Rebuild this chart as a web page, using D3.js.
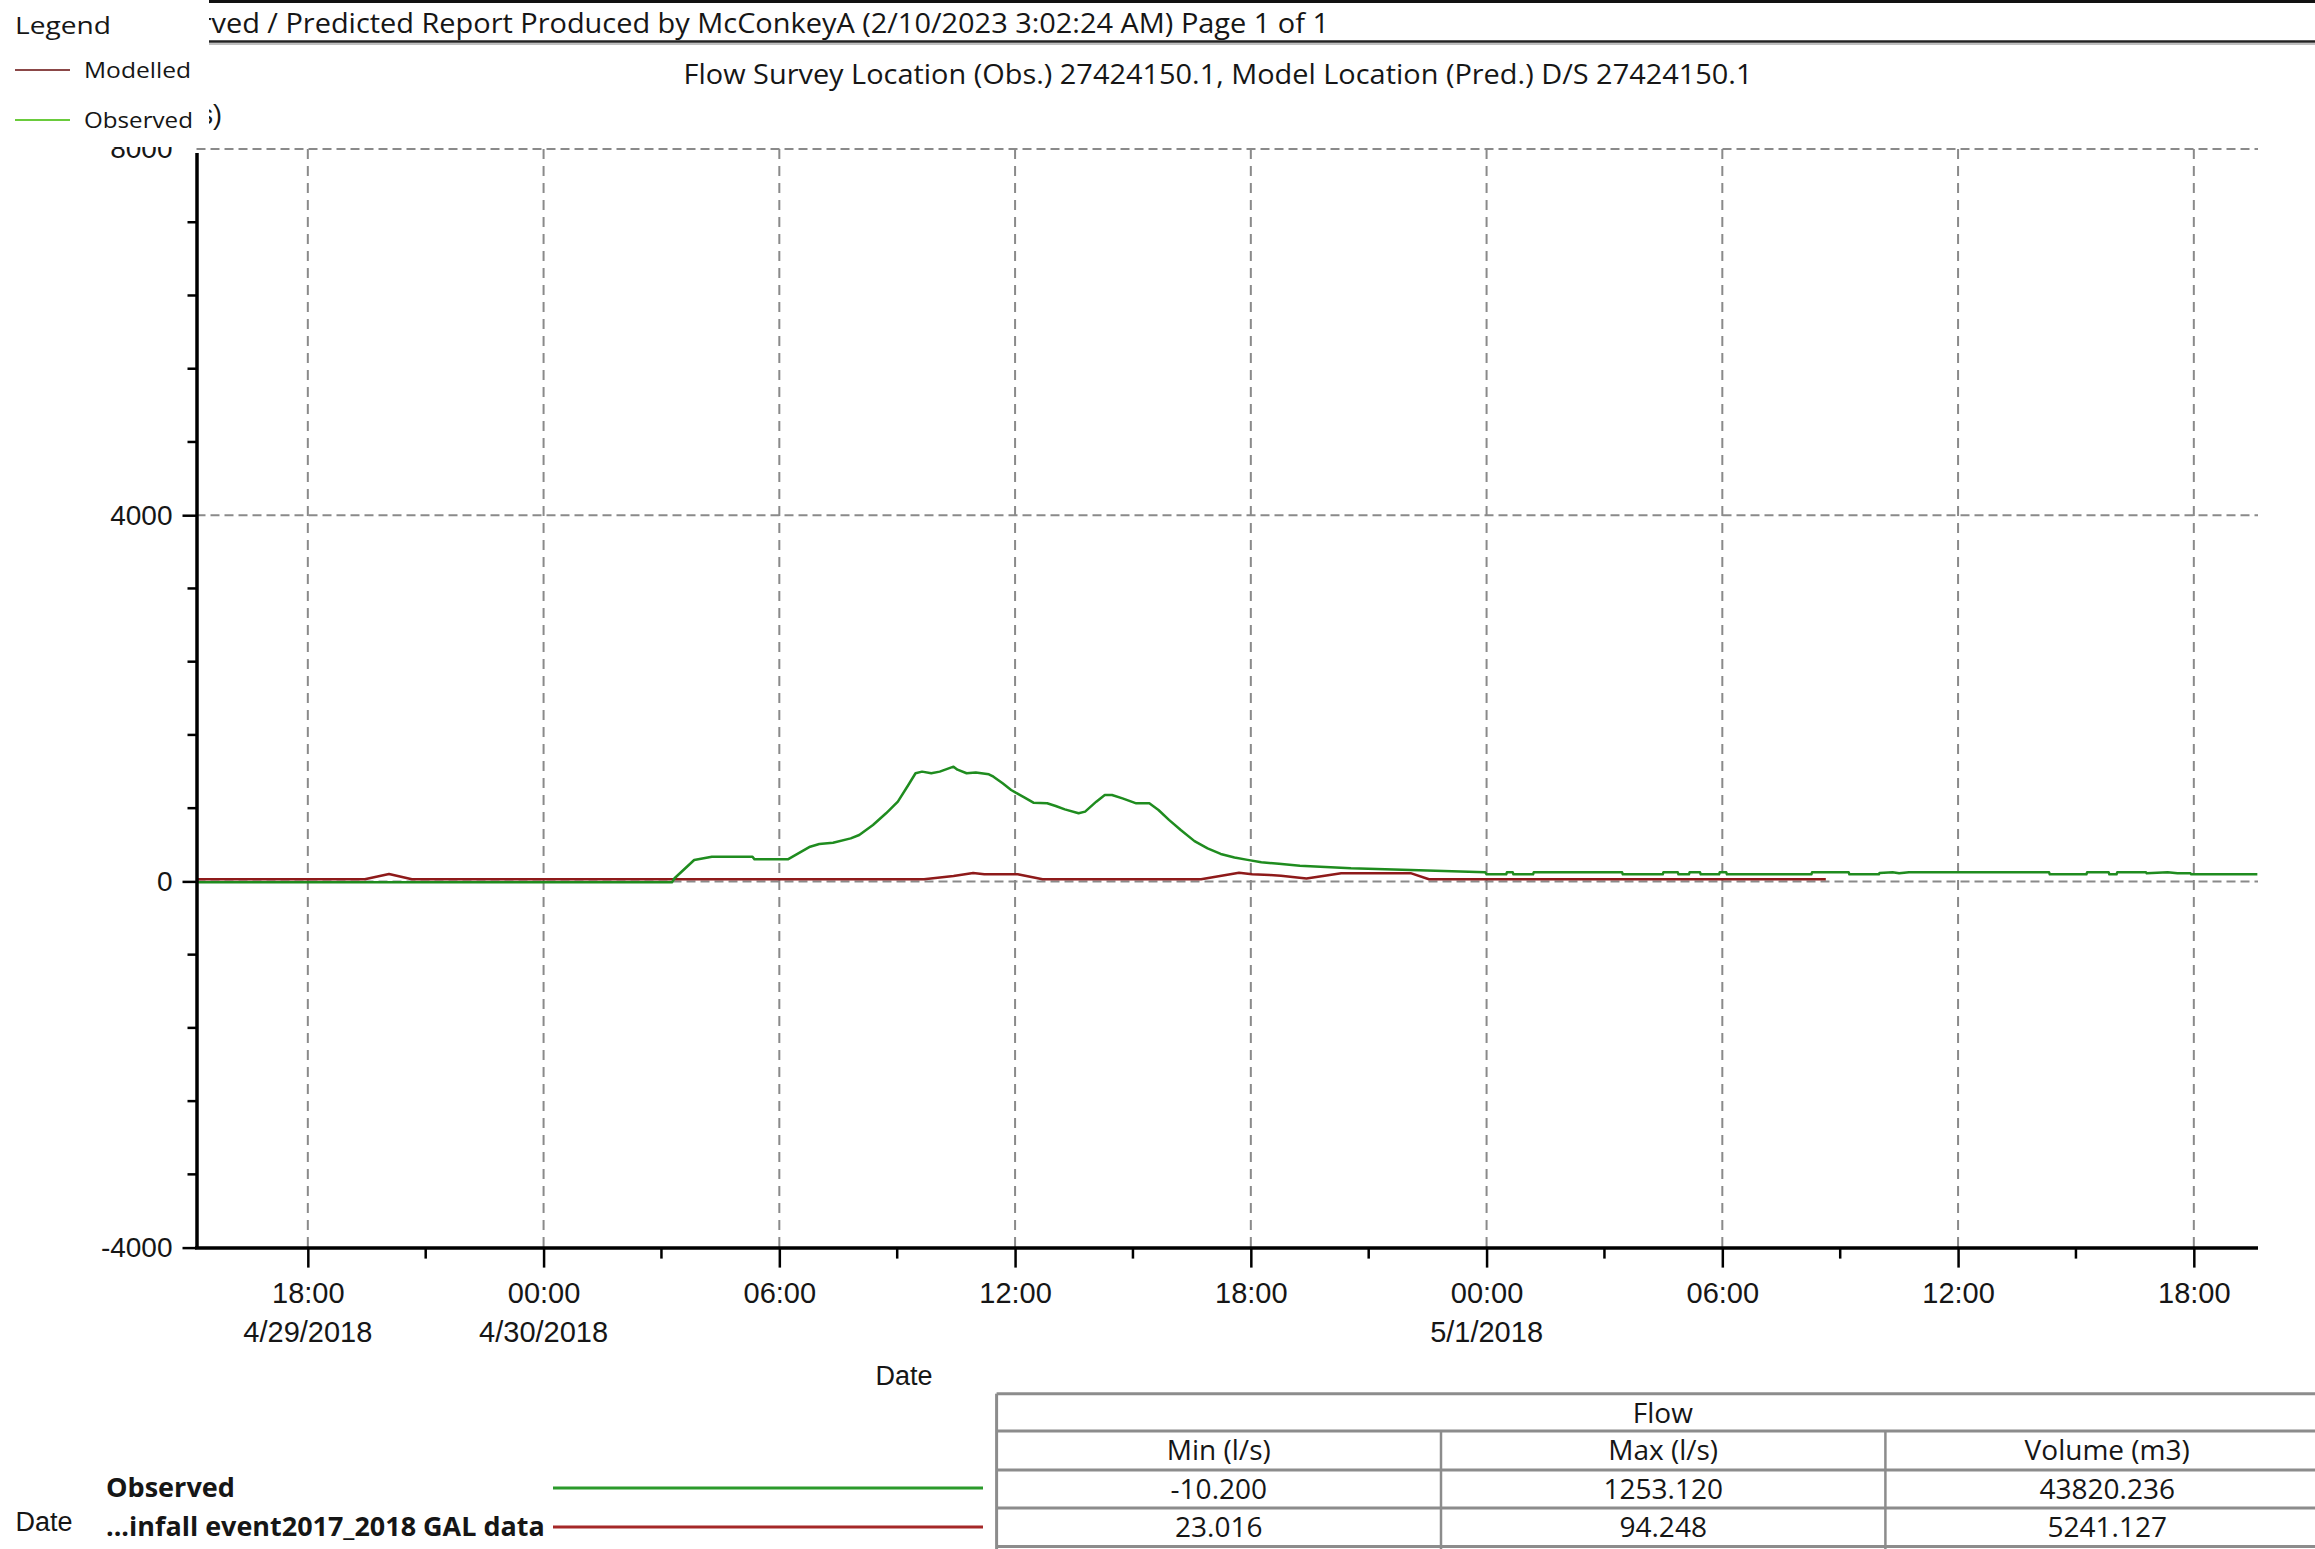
<!DOCTYPE html>
<html>
<head>
<meta charset="utf-8">
<script src="https://cdn.jsdelivr.net/npm/d3@7"></script>
<style>
  html, body { margin: 0; padding: 0; background: #fff; }
  svg { display: block; }
</style>
</head>
<body>
<svg id="chart" width="2315" height="1549"></svg>
<script>
// ---- data -------------------------------------------------------------
const reportTitle = "Observed / Predicted Report Produced by McConkeyA (2/10/2023 3:02:24 AM) Page 1 of 1";
const reportTitleVisible = "ved / Predicted Report Produced by McConkeyA (2/10/2023 3:02:24 AM) Page 1 of 1";
const chartTitle = "Flow Survey Location (Obs.) 27424150.1, Model Location (Pred.) D/S 27424150.1";
const yAxisTitle = "Flow (l/s)";
const xAxisTitle = "Date";
const legendTitle = "Legend";
const legendNames = ["Modelled", "Observed"];
const bottomSeriesNames = ["Observed", "...infall event2017_2018 GAL data"];

const timeDomain = ["2018-04-29 15:10", "2018-05-01 19:38"];
const flowDomain = [-4000, 8000];
const flowLabelTicks = [-4000, 0, 4000, 8000];
const flowGridTicks = [0, 4000, 8000];
const flowMinorStep = 800;

// Observed flow (l/s)
const observedSeries = [
  ["2018-04-29 15:10", -10.2], ["2018-04-30 03:16", -10.2], ["2018-04-30 03:20", 34],
  ["2018-04-30 03:50", 234], ["2018-04-30 04:17", 270], ["2018-04-30 05:19", 270],
  ["2018-04-30 05:22", 241], ["2018-04-30 06:13", 241], ["2018-04-30 06:47", 379],
  ["2018-04-30 07:01", 408], ["2018-04-30 07:22", 423], ["2018-04-30 07:49", 470],
  ["2018-04-30 08:02", 507], ["2018-04-30 08:23", 616], ["2018-04-30 08:43", 744],
  ["2018-04-30 09:01", 871], ["2018-04-30 09:17", 1053], ["2018-04-30 09:28", 1181],
  ["2018-04-30 09:38", 1199], ["2018-04-30 09:52", 1181], ["2018-04-30 10:05", 1199],
  ["2018-04-30 10:26", 1253.12], ["2018-04-30 10:32", 1220], ["2018-04-30 10:46", 1181],
  ["2018-04-30 11:00", 1190], ["2018-04-30 11:20", 1170], ["2018-04-30 11:27", 1144],
  ["2018-04-30 11:41", 1071], ["2018-04-30 11:54", 998], ["2018-04-30 12:01", 969],
  ["2018-04-30 12:14", 918], ["2018-04-30 12:28", 860], ["2018-04-30 12:49", 853],
  ["2018-04-30 13:02", 824], ["2018-04-30 13:16", 787], ["2018-04-30 13:37", 744],
  ["2018-04-30 13:47", 762], ["2018-04-30 14:04", 871], ["2018-04-30 14:17", 944],
  ["2018-04-30 14:28", 944], ["2018-04-30 14:44", 907], ["2018-04-30 15:05", 853],
  ["2018-04-30 15:25", 853], ["2018-04-30 15:39", 780], ["2018-04-30 15:55", 672],
  ["2018-04-30 16:13", 561], ["2018-04-30 16:34", 440], ["2018-04-30 16:54", 360],
  ["2018-04-30 17:14", 300], ["2018-04-30 17:35", 262], ["2018-04-30 17:55", 235],
  ["2018-04-30 18:16", 210], ["2018-04-30 18:43", 192], ["2018-04-30 19:15", 172],
  ["2018-04-30 20:33", 143], ["2018-04-30 22:04", 125], ["2018-04-30 23:58", 99],
  ["2018-05-01 00:00", 77], ["2018-05-01 00:30", 77], ["2018-05-01 00:31", 99],
  ["2018-05-01 00:40", 99], ["2018-05-01 00:41", 77], ["2018-05-01 01:11", 77],
  ["2018-05-01 01:12", 99], ["2018-05-01 03:27", 99], ["2018-05-01 03:28", 77],
  ["2018-05-01 04:29", 77], ["2018-05-01 04:30", 99], ["2018-05-01 04:52", 99],
  ["2018-05-01 04:53", 77], ["2018-05-01 05:09", 77], ["2018-05-01 05:10", 99],
  ["2018-05-01 05:26", 99], ["2018-05-01 05:27", 77], ["2018-05-01 05:55", 77],
  ["2018-05-01 05:56", 99], ["2018-05-01 06:06", 99], ["2018-05-01 06:07", 77],
  ["2018-05-01 08:16", 77], ["2018-05-01 08:17", 99], ["2018-05-01 09:13", 99],
  ["2018-05-01 09:14", 77], ["2018-05-01 09:59", 77], ["2018-05-01 10:00", 92],
  ["2018-05-01 10:20", 99], ["2018-05-01 10:30", 88], ["2018-05-01 10:45", 99],
  ["2018-05-01 14:19", 99], ["2018-05-01 14:20", 77], ["2018-05-01 15:16", 77],
  ["2018-05-01 15:17", 99], ["2018-05-01 15:50", 99], ["2018-05-01 15:51", 77],
  ["2018-05-01 16:02", 77], ["2018-05-01 16:03", 99], ["2018-05-01 16:47", 99],
  ["2018-05-01 16:48", 88], ["2018-05-01 17:20", 99], ["2018-05-01 17:35", 88],
  ["2018-05-01 17:55", 88], ["2018-05-01 17:56", 77], ["2018-05-01 19:37", 77]
];

// Modelled flow (l/s)
const modelledSeries = [
  ["2018-04-29 15:10", 23.016], ["2018-04-29 19:27", 23.016], ["2018-04-29 20:04", 80],
  ["2018-04-29 20:39", 23.016], ["2018-04-30 09:41", 23.016], ["2018-04-30 10:26", 60],
  ["2018-04-30 10:56", 92], ["2018-04-30 11:13", 77], ["2018-04-30 12:04", 77],
  ["2018-04-30 12:42", 23.016], ["2018-04-30 16:44", 23.016], ["2018-04-30 17:42", 94.248],
  ["2018-04-30 18:02", 77], ["2018-04-30 18:29", 70], ["2018-04-30 18:46", 62],
  ["2018-04-30 19:25", 32], ["2018-04-30 20:18", 90], ["2018-04-30 22:04", 90],
  ["2018-04-30 22:32", 23.016], ["2018-05-01 08:38", 23.016]
];

// Summary table
const summaryGroup = "Flow";
const summaryColumns = ["Min (l/s)", "Max (l/s)", "Volume (m3)"];
const observedStats = [-10.2, 1253.12, 43820.236];
const modelledStats = [23.016, 94.248, 5241.127];

// ---- setup ------------------------------------------------------------
const parseT = d3.utcParse("%Y-%m-%d %H:%M");
const svg = d3.select("#chart");
const SANS = "'Open Sans', 'Noto Sans', sans-serif";
const ARIAL = "'Liberation Sans', Arial, sans-serif";
const INK = "#161616";

// plain ASCII hyphen for negative numbers
const hyphenate = f => v => f(v).replace("\u2212", "-");

const plot = { left: 196.5, right: 2258, top: 149, bottom: 1247.6 };

const x = d3.scaleUtc().domain(timeDomain.map(parseT)).range([plot.left, plot.right]);
const y = d3.scaleLinear().domain(flowDomain).range([plot.bottom, plot.top]);

// text helper: optional horizontal fit to a target width
function addText(parent, str, o) {
  const t = parent.append("text").text(str)
    .attr("font-family", o.family || SANS)
    .attr("font-size", o.size)
    .attr("font-weight", o.weight || "normal")
    .attr("fill", o.fill || INK)
    .attr("text-anchor", o.anchor || "start");
  let sx = 1;
  if (o.width) sx = o.width / t.node().getComputedTextLength();
  t.attr("transform", `translate(${o.x},${o.y}) scale(${sx},1)`);
  return t;
}

// ---- report header bar -------------------------------------------------
const header = svg.append("g");
header.append("line").attr("x1", 209).attr("x2", 2315).attr("y1", 1.5).attr("y2", 1.5)
  .attr("stroke", "#111").attr("stroke-width", 3);
header.append("line").attr("x1", 209).attr("x2", 2315).attr("y1", 41.5).attr("y2", 41.5)
  .attr("stroke", "#222").attr("stroke-width", 2.5);
header.append("line").attr("x1", 209).attr("x2", 2315).attr("y1", 44).attr("y2", 44)
  .attr("stroke", "#aaa").attr("stroke-width", 1.5);
{
  // fit the visible part of the header string, then draw the whole string with that scale
  const probe = header.append("text").text(reportTitleVisible)
    .attr("font-family", SANS).attr("font-size", 27);
  const sx = 1118 / probe.node().getComputedTextLength();
  probe.remove();
  header.append("text").text(reportTitle)
    .attr("font-family", SANS).attr("font-size", 27).attr("fill", INK)
    .attr("text-anchor", "end")
    .attr("transform", `translate(1329,33) scale(${sx},1)`);
}

addText(svg, chartTitle, { x: 1218, y: 84, size: 27, anchor: "middle", width: 1069 });

// y axis title (sits partly under the legend panel)
addText(svg, yAxisTitle, { x: 222, y: 124, size: 27, family: ARIAL, anchor: "end" });

// ---- grid ---------------------------------------------------------------
const majorTimes = x.ticks(d3.utcHour.every(6));
const minorTimes = x.ticks(d3.utcHour.every(3)).filter(d => d.getUTCHours() % 6 === 3);

const grid = svg.append("g").attr("stroke", "#8a8a8a").attr("stroke-width", 2);
grid.selectAll("line.v").data(majorTimes).join("line")
  .attr("x1", d => x(d)).attr("x2", d => x(d))
  .attr("y1", plot.top).attr("y2", plot.bottom)
  .attr("stroke-dasharray", "10,7");
grid.selectAll("line.h").data(flowGridTicks).join("line")
  .attr("x1", plot.left).attr("x2", plot.right)
  .attr("y1", d => y(d)).attr("y2", d => y(d))
  .attr("stroke-dasharray", "9,5");

// ---- series ------------------------------------------------------------
const line = d3.line().x(d => x(parseT(d[0]))).y(d => y(d[1]));

svg.append("path").datum(modelledSeries)
  .attr("fill", "none").attr("stroke", "#8e1a1a").attr("stroke-width", 2.5)
  .attr("stroke-linejoin", "round").attr("d", line);

svg.append("path").datum(observedSeries)
  .attr("fill", "none").attr("stroke", "#1f8c1f").attr("stroke-width", 2.5)
  .attr("stroke-linejoin", "round").attr("d", line);

// ---- axes -------------------------------------------------------------
const yAxis = svg.append("g")
  .attr("transform", `translate(${plot.left},0)`)
  .call(d3.axisLeft(y).tickValues(flowLabelTicks).tickSize(14).tickSizeOuter(0)
    .tickPadding(10).tickFormat(hyphenate(d3.format("d"))));
yAxis.select(".domain").attr("stroke", "#000").attr("stroke-width", 3.5)
  .attr("d", `M0.5,${plot.top + 4}V${plot.bottom + 1.5}`);
yAxis.selectAll(".tick line").attr("stroke", "#000").attr("stroke-width", 2.5)
  .filter(d => d === flowDomain[1]).remove();
yAxis.selectAll(".tick text").attr("font-family", ARIAL).attr("font-size", 28).attr("fill", INK);

const flowMinor = d3.range(flowDomain[0], flowDomain[1] + 1, flowMinorStep).filter(v => v % 4000 !== 0);
yAxis.selectAll("line.minor").data(flowMinor).join("line").attr("class", "minor")
  .attr("x1", -9).attr("x2", 0).attr("y1", d => y(d)).attr("y2", d => y(d))
  .attr("stroke", "#000").attr("stroke-width", 2.5);

const xAxis = svg.append("g")
  .attr("transform", `translate(0,${plot.bottom})`)
  .call(d3.axisBottom(x).tickValues(majorTimes).tickSize(20).tickSizeOuter(0)
    .tickPadding(15).tickFormat(d3.utcFormat("%H:%M")));
xAxis.select(".domain").attr("stroke", "#000").attr("stroke-width", 3.5)
  .attr("d", `M${plot.left - 1.5},0.5H${plot.right}`);
xAxis.selectAll(".tick line").attr("stroke", "#000").attr("stroke-width", 2.5);
xAxis.selectAll(".tick text").attr("font-family", ARIAL).attr("font-size", 29).attr("fill", INK);

xAxis.selectAll("line.minor").data(minorTimes).join("line").attr("class", "minor")
  .attr("x1", d => x(d)).attr("x2", d => x(d)).attr("y1", 0).attr("y2", 11)
  .attr("stroke", "#000").attr("stroke-width", 2.5);

// date line under the first tick and each midnight
const fmtDate = d3.utcFormat("%-m/%-d/%Y");
xAxis.selectAll("text.date")
  .data(majorTimes.filter((d, i) => i === 0 || d.getUTCHours() === 0))
  .join("text").attr("class", "date")
  .attr("x", d => x(d)).attr("y", 94.5)
  .attr("text-anchor", "middle").attr("font-family", ARIAL).attr("font-size", 29)
  .attr("fill", INK).text(fmtDate);

addText(svg, xAxisTitle, { x: 904, y: 1385, size: 27, family: ARIAL, anchor: "middle" });

// ---- legend panel (top left) ---------------------------------------------
const legend = svg.append("g");
legend.append("rect").attr("x", 0).attr("y", 0).attr("width", 209).attr("height", 147).attr("fill", "#fff");
addText(legend, legendTitle, { x: 15, y: 34, size: 24, width: 96 });
const legendColors = ["#8b4848", "#6acb3c"];
const legendRows = [70, 120];
legendNames.forEach((name, i) => {
  legend.append("line").attr("x1", 15).attr("x2", 70)
    .attr("y1", legendRows[i]).attr("y2", legendRows[i])
    .attr("stroke", legendColors[i]).attr("stroke-width", 2);
  addText(legend, name, { x: 84, y: legendRows[i] + 8, size: 21, width: name === "Modelled" ? 107 : 109 });
});

// ---- bottom series key ------------------------------------------------------
addText(svg, xAxisTitle, { x: 44, y: 1531, size: 27, family: ARIAL, anchor: "middle" });
const keyColors = ["#2b9a2b", "#a52828"];
const keyRows = [1488, 1527];
bottomSeriesNames.forEach((name, i) => {
  addText(svg, name, { x: 106, y: keyRows[i] + 9, size: 26, weight: "bold",
    width: i === 0 ? 129 : 439 });
  svg.append("line").attr("x1", 553).attr("x2", 983)
    .attr("y1", keyRows[i]).attr("y2", keyRows[i])
    .attr("stroke", keyColors[i]).attr("stroke-width", 3);
});

// ---- summary table ----------------------------------------------------------
const table = svg.append("g");
const tLeft = 996.6, tRight = 2329;
const colEdges = [tLeft, 1441, 1885.4, tRight];
const rowEdges = [1393.7, 1431, 1470, 1508, 1546.5];
const tStroke = "#8c8c8c";
rowEdges.forEach(r => {
  table.append("line").attr("x1", tLeft).attr("x2", tRight).attr("y1", r).attr("y2", r)
    .attr("stroke", tStroke).attr("stroke-width", 3);
});
table.append("line").attr("x1", tLeft).attr("x2", tLeft).attr("y1", rowEdges[0]).attr("y2", 1549)
  .attr("stroke", tStroke).attr("stroke-width", 3);
colEdges.slice(1, 3).forEach(c => {
  table.append("line").attr("x1", c).attr("x2", c).attr("y1", rowEdges[1]).attr("y2", 1549)
    .attr("stroke", tStroke).attr("stroke-width", 2.5);
});
addText(table, summaryGroup, { x: (tLeft + tRight) / 2, y: 1423, size: 28, anchor: "middle" });
const fmt3 = hyphenate(d3.format(".3f"));
summaryColumns.forEach((c, j) => {
  const cx = (colEdges[j] + colEdges[j + 1]) / 2;
  addText(table, c, { x: cx, y: 1460, size: 28, anchor: "middle" });
  addText(table, fmt3(observedStats[j]), { x: cx, y: 1499, size: 28, anchor: "middle" });
  addText(table, fmt3(modelledStats[j]), { x: cx, y: 1537, size: 28, anchor: "middle" });
});
</script>
</body>
</html>
